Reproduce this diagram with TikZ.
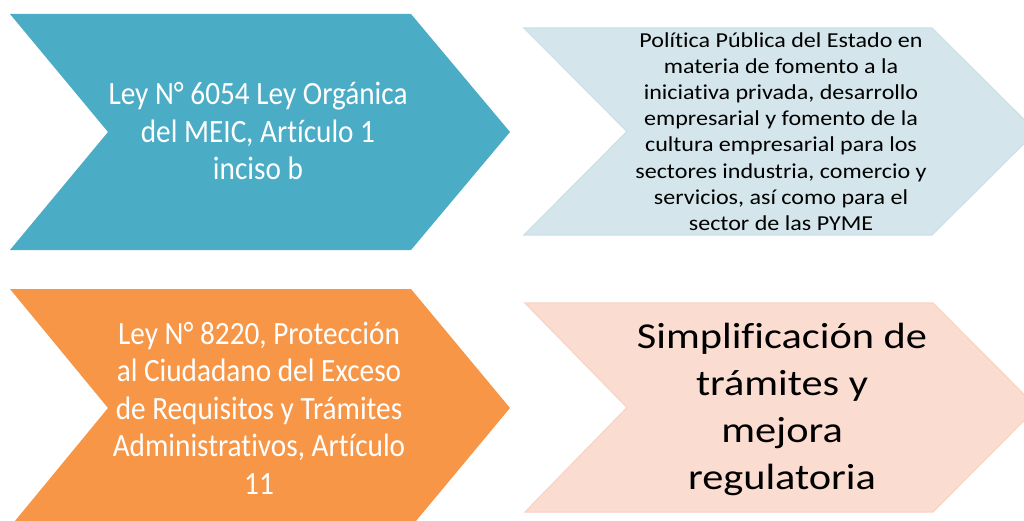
\documentclass[tikz,border=0pt]{standalone}
\usepackage{fontspec}
\setmainfont{Carlito}[Ligatures=NoCommon]
\newfontfamily\narrowfont{Carlito}[FakeStretch=0.9,Ligatures=NoCommon]
\newfontfamily\widefont{Carlito}[FakeStretch=1.13,Ligatures=NoCommon]
\newfontfamily\widerfont{Carlito}[FakeStretch=1.16,Ligatures=NoCommon]
\definecolor{cblue}{HTML}{4BACC6}
\definecolor{corange}{HTML}{F79646}
\definecolor{lblue}{HTML}{D4E6EC}
\definecolor{lblueline}{HTML}{CCE0E8}
\definecolor{lorange}{HTML}{FBDCD0}
\definecolor{lorangeline}{HTML}{F8D4C6}
\tikzset{
  darkchev/.style={fill=#1, draw=none},
  lightchev/.style={fill=#1, draw=#1line, line width=1.2pt},
  bigtxt/.style={inner sep=0pt, align=center, text=white, font=\narrowfont\fontsize{32.5}{37.5}\selectfont},
  smalltxt/.style={inner sep=0pt, align=center, text=black, font=\widefont\fontsize{21.3}{26.2}\selectfont},
  hugetxt/.style={inner sep=0pt, align=center, text=black, font=\widerfont\fontsize{36.5}{47}\selectfont}
}
\begin{document}
\begin{tikzpicture}[x=1pt,y=-1pt]
\clip (0,0) rectangle (1024,521);
\fill[white] (0,0) rectangle (1024,521);
% top row
\path[lightchev=lblue] (524,28) -- (932,28) -- (1036,131.5) -- (932,235) -- (524,235) -- (627,131.5) -- cycle;
\path[darkchev=cblue] (10,14) -- (411,14) -- (510,132) -- (411,250) -- (10,250) -- (108,132) -- cycle;
% bottom row
\path[lightchev=lorange] (525,303) -- (933,303) -- (1037,407.5) -- (933,512) -- (525,512) -- (627,407.5) -- cycle;
\path[darkchev=corange] (10,289) -- (411,289) -- (510,408) -- (411,527) -- (10,527) -- (108,408) -- cycle;
% texts
\node[bigtxt] (t1) at (258,131) {Ley N° 6054 Ley Orgánica\\del MEIC, Artículo 1\\inciso b};
\node[smalltxt] (t2) at (781,131.5) {Política Pública del Estado en\\materia de fomento a la\\iniciativa privada, desarrollo\\empresarial y fomento de la\\cultura empresarial para los\\sectores industria, comercio y\\servicios, así como para el\\sector de las PYME};
\node[bigtxt] (t3) at (259,408) {Ley N° 8220, Protección\\al Ciudadano del Exceso\\de Requisitos y Trámites\\Administrativos, Artículo\\11};
\node[hugetxt] (t4) at (782,409) {Simplificación de\\trámites y\\mejora\\regulatoria};
\end{tikzpicture}
\end{document}
